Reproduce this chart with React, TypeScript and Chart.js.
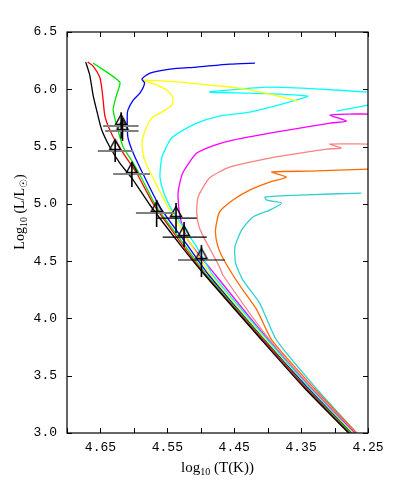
import React, { useEffect, useRef } from "react";
import { Chart, registerables } from "chart.js";

Chart.register(...registerables);

// ---- Isochrone tracks (log10 Teff, log10 L/Lsun) ----
const blackLogT = [4.279, 4.345, 4.409, 4.494, 4.528, 4.576, 4.601, 4.621, 4.636, 4.648, 4.655, 4.661, 4.666, 4.672];
const blackLogL = [3.0, 3.393, 3.812, 4.379, 4.623, 4.99, 5.208, 5.356, 5.496, 5.644, 5.801, 5.949, 6.124, 6.237];

const redLogT = [4.278, 4.343, 4.407, 4.493, 4.525, 4.57, 4.596, 4.616, 4.631, 4.643, 4.646, 4.648, 4.651, 4.661, 4.669];
const redLogL = [3.0, 3.393, 3.812, 4.379, 4.623, 4.99, 5.269, 5.443, 5.583, 5.757, 5.906, 6.01, 6.106, 6.202, 6.237];

const greenLogT = [4.276, 4.342, 4.406, 4.491, 4.522, 4.566, 4.587, 4.601, 4.616, 4.625, 4.631, 4.628, 4.625, 4.621, 4.661];
const greenLogL = [3.0, 3.393, 3.812, 4.379, 4.623, 4.972, 5.208, 5.356, 5.496, 5.67, 5.818, 5.906, 5.967, 6.063, 6.229];

const blueLogT = [4.275, 4.34, 4.405, 4.488, 4.518, 4.561, 4.587, 4.601, 4.609, 4.61, 4.609, 4.601, 4.591, 4.584, 4.588, 4.576, 4.546, 4.506, 4.457, 4.419];
const blueLogL = [3.0, 3.393, 3.812, 4.379, 4.623, 4.972, 5.269, 5.443, 5.583, 5.757, 5.818, 5.906, 5.967, 6.054, 6.089, 6.141, 6.176, 6.194, 6.22, 6.229];

const yellowLogT = [4.273, 4.339, 4.403, 4.485, 4.512, 4.549, 4.572, 4.584, 4.588, 4.581, 4.572, 4.561, 4.543, 4.542, 4.551, 4.569, 4.587, 4.531, 4.487, 4.442, 4.397, 4.355];
const yellowLogL = [3.0, 3.393, 3.812, 4.379, 4.623, 4.972, 5.234, 5.382, 5.531, 5.67, 5.757, 5.792, 5.862, 5.932, 5.993, 6.045, 6.08, 6.063, 6.037, 6.01, 5.958, 5.897];

const cyanLogT = [4.272, 4.337, 4.4, 4.482, 4.506, 4.543, 4.554, 4.561, 4.558, 4.546, 4.536, 4.506, 4.472, 4.427, 4.39, 4.363, 4.34, 4.382, 4.427, 4.487, 4.442, 4.397, 4.322, 4.252];
const cyanLogL = [3.0, 3.393, 3.812, 4.379, 4.623, 4.946, 5.077, 5.234, 5.408, 5.557, 5.609, 5.705, 5.766, 5.801, 5.853, 5.897, 5.941, 5.958, 5.967, 5.976, 6.002, 6.019, 6.002, 5.976];

const cyanTailLogT = [4.297, 4.25];
const cyanTailLogL = [5.81, 5.862];

const magentaLogT = [4.27, 4.336, 4.399, 4.478, 4.519, 4.531, 4.534, 4.527, 4.506, 4.479, 4.452, 4.397, 4.352, 4.307, 4.282, 4.307, 4.278, 4.25];
const magentaLogL = [3.0, 3.393, 3.812, 4.379, 4.684, 4.885, 5.094, 5.269, 5.443, 5.513, 5.557, 5.618, 5.661, 5.705, 5.722, 5.775, 5.784, 5.784];

const salmonLogT = [4.269, 4.334, 4.397, 4.467, 4.472, 4.491, 4.502, 4.506, 4.504, 4.487, 4.457, 4.397, 4.352, 4.312, 4.29, 4.307, 4.25];
const salmonLogL = [3.0, 3.393, 3.812, 4.379, 4.449, 4.658, 4.789, 4.92, 5.059, 5.225, 5.321, 5.4, 5.443, 5.478, 5.487, 5.522, 5.522];

const orangeLogT = [4.267, 4.331, 4.394, 4.416, 4.437, 4.452, 4.467, 4.475, 4.478, 4.472, 4.452, 4.427, 4.397, 4.372, 4.394, 4.337, 4.25];
const orangeLogL = [3.0, 3.393, 3.812, 4.073, 4.248, 4.379, 4.527, 4.64, 4.771, 4.928, 5.033, 5.12, 5.19, 5.234, 5.278, 5.286, 5.304];

const turquoiseLogT = [4.267, 4.328, 4.387, 4.412, 4.437, 4.448, 4.449, 4.439, 4.422, 4.397, 4.379, 4.401, 4.404, 4.352, 4.26];
const turquoiseLogL = [3.0, 3.393, 3.812, 4.134, 4.335, 4.483, 4.623, 4.771, 4.885, 4.946, 5.007, 5.033, 5.059, 5.077, 5.094];

// ---- Observed stars with error bars ----
const obsLogT = [4.619, 4.617, 4.628, 4.603, 4.566, 4.537, 4.525, 4.499];
const obsLogL = [5.68, 5.635, 5.461, 5.26, 4.92, 4.876, 4.71, 4.51];
const obsLogTLo = [4.593, 4.593, 4.601, 4.576, 4.539, 4.506, 4.491, 4.464];
const obsLogTHi = [4.646, 4.643, 4.654, 4.631, 4.597, 4.566, 4.557, 4.534];
const obsLogLLo = [5.57, 5.55, 5.365, 5.147, 4.798, 4.745, 4.623, 4.361];
const obsLogLHi = [5.8, 5.75, 5.557, 5.365, 5.033, 5.007, 4.841, 4.64];

// ---- Axis ----
const xMin = 4.25;
const xMax = 4.7;
const xStep = 0.05;
const yMin = 3.0;
const yMax = 6.5;
const yStep = 0.5;

const tracks = [
  { t: blackLogT, l: blackLogL, color: "#000000" },
  { t: redLogT, l: redLogL, color: "#ff0000" },
  { t: greenLogT, l: greenLogL, color: "#00e600" },
  { t: blueLogT, l: blueLogL, color: "#0000ff" },
  { t: yellowLogT, l: yellowLogL, color: "#ffff00" },
  { t: cyanLogT, l: cyanLogL, color: "#00ffff" },
  { t: cyanTailLogT, l: cyanTailLogL, color: "#00ffff" },
  { t: magentaLogT, l: magentaLogL, color: "#ff00ff" },
  { t: salmonLogT, l: salmonLogL, color: "#ff8080" },
  { t: orangeLogT, l: orangeLogL, color: "#ff6a00" },
  { t: turquoiseLogT, l: turquoiseLogL, color: "#33d0d0" },
];

function makeTriangle(): HTMLCanvasElement {
  const c = document.createElement("canvas");
  c.width = 26;
  c.height = 26;
  const g = c.getContext("2d")!;
  g.strokeStyle = "#000";
  g.lineWidth = 1.4;
  g.beginPath();
  g.moveTo(13, 1.5);
  g.lineTo(18.5, 11.5);
  g.lineTo(7.5, 11.5);
  g.closePath();
  g.stroke();
  return c;
}

function drawPieces(
  ctx: CanvasRenderingContext2D,
  pieces: { s: string; sub?: boolean }[],
  cx: number,
  baseY: number,
  fontMain: string,
  fontSub: string,
  subDrop: number
) {
  let total = 0;
  const widths = pieces.map((p) => {
    ctx.font = p.sub ? fontSub : fontMain;
    const w = ctx.measureText(p.s).width;
    total += w;
    return w;
  });
  let x = cx - total / 2;
  pieces.forEach((p, i) => {
    ctx.font = p.sub ? fontSub : fontMain;
    ctx.fillText(p.s, x, baseY + (p.sub ? subDrop : 0));
    x += widths[i];
  });
}

const framePlugin = {
  id: "frameTicks",
  afterDraw(chart: any) {
    const { ctx, chartArea } = chart;
    const xs = chart.scales.x;
    const ys = chart.scales.y;
    const { left, right, top, bottom } = chartArea;
    ctx.save();
    ctx.strokeStyle = "#000";
    ctx.lineWidth = 1.2;
    ctx.strokeRect(left, top, right - left, bottom - top);
    ctx.lineWidth = 1;
    const tl = 5;
    ctx.beginPath();
    xs.ticks.forEach((t: any) => {
      const px = Math.round(xs.getPixelForValue(t.value)) + 0.5;
      ctx.moveTo(px, bottom);
      ctx.lineTo(px, bottom - tl);
      ctx.moveTo(px, top);
      ctx.lineTo(px, top + tl);
    });
    ys.ticks.forEach((t: any) => {
      const py = Math.round(ys.getPixelForValue(t.value)) + 0.5;
      ctx.moveTo(left, py);
      ctx.lineTo(left + tl, py);
      ctx.moveTo(right, py);
      ctx.lineTo(right - tl, py);
    });
    ctx.stroke();

    // axis titles
    ctx.fillStyle = "#000";
    ctx.textBaseline = "alphabetic";
    const cx = (left + right) / 2;
    drawPieces(
      ctx,
      [{ s: "log" }, { s: "10", sub: true }, { s: " (T(K))" }],
      cx,
      bottom + 39,
      "15px 'Liberation Serif', serif",
      "10px 'Liberation Serif', serif",
      3
    );
    ctx.save();
    ctx.translate(24, top + 180);
    ctx.rotate(-Math.PI / 2);
    drawPieces(
      ctx,
      [{ s: "Log" }, { s: "10", sub: true }, { s: " (L/L" }, { s: "\u2609", sub: true }, { s: ")" }],
      0,
      0,
      "14px 'Liberation Serif', serif",
      "10px 'Liberation Serif', 'DejaVu Sans', serif",
      3
    );
    ctx.restore();
    ctx.restore();
  },
};

const errorBarPlugin = {
  id: "errorBars",
  afterDatasetsDraw(chart: any) {
    const { ctx } = chart;
    const xs = chart.scales.x;
    const ys = chart.scales.y;
    ctx.save();
    for (let i = 0; i < obsLogT.length; i++) {
      const px = xs.getPixelForValue(obsLogT[i]);
      const py = ys.getPixelForValue(obsLogL[i]);
      ctx.strokeStyle = i < 5 ? "#808080" : "#000";
      ctx.lineWidth = i < 5 ? 2 : 1.2;
      ctx.beginPath();
      ctx.moveTo(xs.getPixelForValue(obsLogTLo[i]), py);
      ctx.lineTo(xs.getPixelForValue(obsLogTHi[i]), py);
      ctx.stroke();
      ctx.strokeStyle = "#000";
      ctx.lineWidth = 1.6;
      ctx.beginPath();
      ctx.moveTo(px, ys.getPixelForValue(obsLogLLo[i]));
      ctx.lineTo(px, ys.getPixelForValue(obsLogLHi[i]));
      ctx.stroke();
    }
    ctx.restore();
  },
};

export default function App() {
  const ref = useRef<HTMLCanvasElement | null>(null);

  useEffect(() => {
    document.body.style.margin = "0";
    const canvas = ref.current;
    if (!canvas) return;

    const trackSets = tracks.map((tr, k) => ({
      label: "isochrone " + (k + 1),
      data: tr.t.map((t, i) => ({ x: t, y: tr.l[i] })),
      showLine: true,
      borderColor: tr.color,
      backgroundColor: tr.color,
      borderWidth: 1.3,
      pointRadius: 0,
      tension: 0.2,
      fill: false,
      order: k,
    }));

    const obsSet = {
      label: "stars",
      data: obsLogT.map((t, i) => ({ x: t, y: obsLogL[i] })),
      showLine: false,
      pointStyle: makeTriangle(),
      pointRadius: 6,
      borderColor: "#000",
      backgroundColor: "rgba(0,0,0,0)",
      order: -1,
    };

    const font = { family: "'Liberation Mono', 'DejaVu Sans Mono', monospace", size: 13 };

    const chart = new Chart(canvas, {
      type: "scatter",
      data: { datasets: [...trackSets, obsSet] as any },
      options: {
        responsive: false,
        animation: false,
        events: [],
        layout: { padding: { top: 32, right: 31, left: 0, bottom: 0 } },
        plugins: { legend: { display: false }, tooltip: { enabled: false } },
        scales: {
          x: {
            type: "linear",
            min: xMin,
            max: xMax,
            reverse: true,
            grid: { display: false, drawTicks: false },
            border: { display: false },
            ticks: {
              stepSize: xStep,
              padding: 7,
              autoSkip: false,
              maxRotation: 0,
              color: "#000",
              font,
              callback: (v: any) => {
                const k = Math.round(Number(v) * 100);
                return k % 10 === 5 ? (k / 100).toFixed(2) : "";
              },
            },
            afterFit: (s: any) => {
              s.height = 57;
            },
          },
          y: {
            type: "linear",
            min: yMin,
            max: yMax,
            grid: { display: false, drawTicks: false },
            border: { display: false },
            ticks: {
              stepSize: yStep,
              padding: 10,
              color: "#000",
              font,
              callback: (v: any) => Number(v).toFixed(1),
            },
            afterFit: (s: any) => {
              s.width = 67;
            },
          },
        },
      } as any,
      plugins: [errorBarPlugin, framePlugin],
    });

    return () => chart.destroy();
  }, []);

  return (
    <div style={{ width: 399, height: 490 }}>
      <canvas ref={ref} width={399} height={490} style={{ display: "block" }} />
    </div>
  );
}
